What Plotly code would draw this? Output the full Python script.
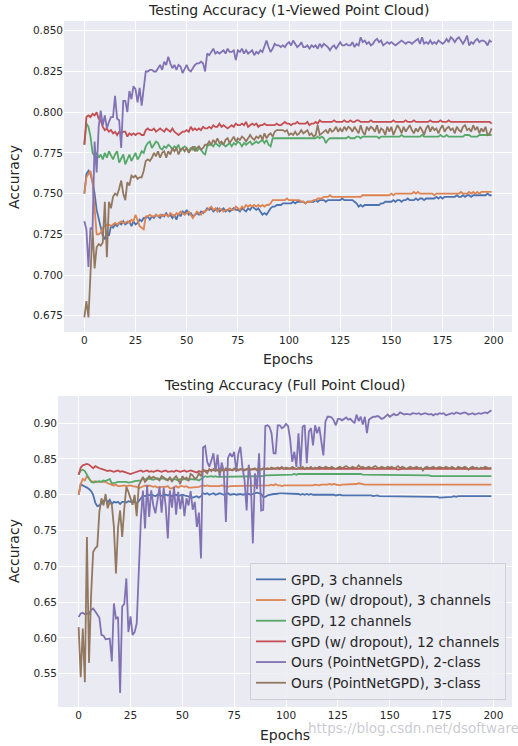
import plotly.graph_objects as go

epochs = list(range(200))

names = ["GPD, 3 channels", "GPD (w/ dropout), 3 channels", "GPD, 12 channels",
         "GPD (w/ dropout), 12 channels", "Ours (PointNetGPD), 2-class", "Ours (PointNetGPD), 3-class"]
colors = ["#4C72B0", "#DD8452", "#55A868", "#C44E52", "#8172B3", "#937860"]

# ---------- Top: 1-viewed point cloud ----------
v1_gpd3 = [
    0.750, 0.762, 0.764, 0.762, 0.757, 0.750, 0.740, 0.734, 0.730, 0.724,
    0.722, 0.727, 0.724, 0.730, 0.729, 0.731, 0.730, 0.732, 0.731, 0.733,
    0.731, 0.732, 0.733, 0.730, 0.733, 0.731, 0.732, 0.734, 0.733, 0.735,
    0.735, 0.736, 0.734, 0.736, 0.735, 0.737, 0.736, 0.735, 0.737, 0.736,
    0.738, 0.736, 0.737, 0.735, 0.737, 0.734, 0.738, 0.736, 0.739, 0.738,
    0.740, 0.737, 0.738, 0.736, 0.737, 0.738, 0.737, 0.739, 0.738, 0.739,
    0.741, 0.740, 0.741, 0.739, 0.740, 0.741, 0.739, 0.740, 0.741, 0.739,
    0.740, 0.739, 0.740, 0.741, 0.740, 0.740, 0.739, 0.741, 0.740, 0.739,
    0.741, 0.740, 0.742, 0.741, 0.740, 0.741, 0.739, 0.737, 0.738, 0.737,
    0.739, 0.741, 0.742, 0.742, 0.743, 0.743, 0.743, 0.744, 0.744, 0.744,
    0.744, 0.744, 0.745, 0.744, 0.745, 0.745, 0.745, 0.745, 0.744, 0.745,
    0.745, 0.745, 0.745, 0.746, 0.745, 0.746, 0.746, 0.746, 0.745, 0.746,
    0.746, 0.746, 0.746, 0.746, 0.746, 0.746, 0.747, 0.746, 0.746, 0.746,
    0.746, 0.746, 0.745, 0.744, 0.742, 0.743, 0.742, 0.743, 0.743, 0.743,
    0.743, 0.743, 0.743, 0.743, 0.743, 0.744, 0.744, 0.745, 0.745, 0.745,
    0.745, 0.746, 0.745, 0.746, 0.746, 0.745, 0.746, 0.746, 0.747, 0.746,
    0.746, 0.746, 0.747, 0.746, 0.747, 0.747, 0.746, 0.747, 0.747, 0.747,
    0.747, 0.747, 0.748, 0.747, 0.748, 0.747, 0.748, 0.748, 0.748, 0.748,
    0.748, 0.748, 0.749, 0.748, 0.748, 0.749, 0.748, 0.749, 0.749, 0.748,
    0.749, 0.749, 0.749, 0.749, 0.749, 0.749, 0.749, 0.750, 0.749, 0.749,
]
v1_gpd3_do = [
    0.750, 0.760, 0.762, 0.764, 0.757, 0.742, 0.725, 0.725, 0.726, 0.729,
    0.730, 0.731, 0.731, 0.730, 0.731, 0.732, 0.731, 0.732, 0.733, 0.732,
    0.732, 0.733, 0.732, 0.734, 0.733, 0.737, 0.733, 0.730, 0.729, 0.728,
    0.736, 0.736, 0.737, 0.736, 0.736, 0.737, 0.736, 0.737, 0.736, 0.737,
    0.737, 0.736, 0.738, 0.737, 0.736, 0.738, 0.737, 0.739, 0.738, 0.737,
    0.738, 0.739, 0.737, 0.735, 0.737, 0.739, 0.738, 0.737, 0.739, 0.739,
    0.740, 0.741, 0.742, 0.740, 0.741, 0.739, 0.741, 0.740, 0.739, 0.740,
    0.740, 0.741, 0.740, 0.740, 0.742, 0.741, 0.740, 0.742, 0.741, 0.743,
    0.742, 0.743, 0.742, 0.743, 0.742, 0.743, 0.742, 0.743, 0.742, 0.743,
    0.743, 0.744, 0.746, 0.746, 0.746, 0.746, 0.746, 0.746, 0.746, 0.747,
    0.746, 0.746, 0.746, 0.746, 0.746, 0.746, 0.745, 0.745, 0.744, 0.745,
    0.745, 0.745, 0.746, 0.746, 0.747, 0.747, 0.747, 0.748, 0.748, 0.748,
    0.749, 0.748, 0.748, 0.748, 0.748, 0.748, 0.748, 0.748, 0.748, 0.748,
    0.748, 0.748, 0.748, 0.748, 0.748, 0.748, 0.749, 0.749, 0.749, 0.749,
    0.749, 0.749, 0.749, 0.749, 0.749, 0.749, 0.749, 0.749, 0.749, 0.749,
    0.750, 0.749, 0.750, 0.750, 0.750, 0.750, 0.750, 0.750, 0.750, 0.750,
    0.750, 0.751, 0.750, 0.751, 0.750, 0.750, 0.750, 0.750, 0.750, 0.750,
    0.750, 0.749, 0.750, 0.750, 0.750, 0.750, 0.750, 0.750, 0.750, 0.750,
    0.750, 0.750, 0.750, 0.750, 0.751, 0.750, 0.750, 0.750, 0.751, 0.750,
    0.751, 0.750, 0.751, 0.750, 0.751, 0.751, 0.751, 0.751, 0.751, 0.751,
]
v1_gpd12 = [
    0.780, 0.793, 0.791, 0.785, 0.775, 0.773, 0.775, 0.772, 0.774, 0.771,
    0.775, 0.772, 0.776, 0.773, 0.771, 0.774, 0.776, 0.769, 0.772, 0.774,
    0.768, 0.771, 0.774, 0.770, 0.773, 0.775, 0.771, 0.773, 0.776, 0.775,
    0.779, 0.781, 0.782, 0.778, 0.780, 0.782, 0.781, 0.778, 0.777, 0.779,
    0.778, 0.780, 0.779, 0.777, 0.779, 0.778, 0.780, 0.776, 0.778, 0.779,
    0.778, 0.776, 0.778, 0.777, 0.779, 0.776, 0.778, 0.777, 0.775, 0.774,
    0.779, 0.780, 0.780, 0.779, 0.781, 0.780, 0.779, 0.781, 0.780, 0.779,
    0.780, 0.781, 0.779, 0.781, 0.780, 0.782, 0.781, 0.779, 0.781, 0.780,
    0.781, 0.782, 0.780, 0.781, 0.782, 0.781, 0.782, 0.783, 0.781, 0.783,
    0.780, 0.779, 0.784, 0.784, 0.784, 0.784, 0.784, 0.784, 0.784, 0.784,
    0.784, 0.784, 0.784, 0.784, 0.784, 0.784, 0.784, 0.784, 0.784, 0.784,
    0.784, 0.784, 0.784, 0.784, 0.785, 0.784, 0.785, 0.784, 0.781, 0.783,
    0.784, 0.784, 0.784, 0.784, 0.784, 0.784, 0.784, 0.784, 0.784, 0.785,
    0.784, 0.784, 0.784, 0.785, 0.785, 0.784, 0.785, 0.785, 0.785, 0.785,
    0.785, 0.785, 0.785, 0.785, 0.784, 0.785, 0.785, 0.785, 0.785, 0.785,
    0.785, 0.785, 0.785, 0.785, 0.785, 0.786, 0.785, 0.785, 0.785, 0.785,
    0.785, 0.785, 0.785, 0.785, 0.785, 0.786, 0.785, 0.785, 0.785, 0.785,
    0.785, 0.785, 0.785, 0.785, 0.786, 0.785, 0.785, 0.786, 0.785, 0.785,
    0.785, 0.785, 0.785, 0.785, 0.785, 0.785, 0.786, 0.786, 0.786, 0.785,
    0.785, 0.785, 0.785, 0.786, 0.786, 0.786, 0.786, 0.786, 0.786, 0.786,
]
v1_gpd12_do = [
    0.780, 0.797, 0.798, 0.797, 0.799, 0.798, 0.800, 0.796, 0.795, 0.791,
    0.789, 0.790, 0.788, 0.789, 0.787, 0.788, 0.786, 0.788, 0.787, 0.788,
    0.788, 0.785, 0.787, 0.786, 0.787, 0.786, 0.787, 0.787, 0.786, 0.786,
    0.789, 0.790, 0.789, 0.789, 0.790, 0.788, 0.789, 0.790, 0.789, 0.788,
    0.790, 0.789, 0.788, 0.790, 0.788, 0.787, 0.786, 0.787, 0.788, 0.788,
    0.789, 0.788, 0.791, 0.789, 0.790, 0.789, 0.790, 0.789, 0.791, 0.790,
    0.790, 0.791, 0.790, 0.792, 0.791, 0.791, 0.793, 0.791, 0.792, 0.791,
    0.790, 0.791, 0.792, 0.791, 0.793, 0.792, 0.792, 0.793, 0.792, 0.794,
    0.791, 0.792, 0.793, 0.792, 0.793, 0.791, 0.792, 0.792, 0.793, 0.792,
    0.792, 0.792, 0.792, 0.792, 0.793, 0.792, 0.792, 0.793, 0.794, 0.793,
    0.793, 0.792, 0.793, 0.793, 0.794, 0.793, 0.793, 0.793, 0.793, 0.794,
    0.792, 0.793, 0.793, 0.794, 0.793, 0.795, 0.794, 0.794, 0.794, 0.794,
    0.794, 0.794, 0.795, 0.794, 0.794, 0.794, 0.794, 0.795, 0.794, 0.794,
    0.795, 0.794, 0.794, 0.795, 0.795, 0.794, 0.794, 0.794, 0.794, 0.794,
    0.795, 0.794, 0.794, 0.794, 0.794, 0.794, 0.794, 0.794, 0.794, 0.794,
    0.794, 0.795, 0.794, 0.794, 0.794, 0.794, 0.794, 0.795, 0.794, 0.794,
    0.794, 0.795, 0.794, 0.794, 0.794, 0.794, 0.794, 0.794, 0.794, 0.795,
    0.794, 0.794, 0.794, 0.794, 0.795, 0.794, 0.794, 0.794, 0.795, 0.794,
    0.794, 0.794, 0.794, 0.794, 0.794, 0.794, 0.794, 0.794, 0.794, 0.794,
    0.794, 0.794, 0.794, 0.794, 0.794, 0.794, 0.794, 0.794, 0.794, 0.793,
]
v1_ours2 = [
    0.733, 0.728, 0.705, 0.729, 0.728, 0.782, 0.763, 0.791, 0.801, 0.792,
    0.798, 0.790, 0.794, 0.797, 0.797, 0.810, 0.796, 0.795, 0.778, 0.807,
    0.807, 0.800, 0.813, 0.808, 0.816, 0.814, 0.806, 0.815, 0.804, 0.816,
    0.825, 0.825, 0.826, 0.826, 0.825, 0.825, 0.827, 0.829, 0.826, 0.831,
    0.829, 0.834, 0.830, 0.827, 0.829, 0.826, 0.829, 0.828, 0.824, 0.827,
    0.829, 0.826, 0.825, 0.827, 0.829, 0.830, 0.830, 0.831, 0.830, 0.825,
    0.836, 0.835, 0.837, 0.839, 0.836, 0.837, 0.836, 0.837, 0.838, 0.836,
    0.839, 0.837, 0.837, 0.838, 0.832, 0.838, 0.837, 0.839, 0.836, 0.838,
    0.836, 0.837, 0.838, 0.835, 0.837, 0.836, 0.838, 0.837, 0.840, 0.844,
    0.840, 0.837, 0.839, 0.842, 0.841, 0.841, 0.840, 0.841, 0.840, 0.842,
    0.843, 0.841, 0.844, 0.842, 0.840, 0.841, 0.843, 0.840, 0.840, 0.841,
    0.839, 0.841, 0.840, 0.841, 0.839, 0.842, 0.840, 0.842, 0.841, 0.840,
    0.838, 0.840, 0.841, 0.839, 0.841, 0.843, 0.841, 0.841, 0.842, 0.841,
    0.841, 0.843, 0.840, 0.842, 0.841, 0.846, 0.843, 0.844, 0.842, 0.843,
    0.841, 0.842, 0.844, 0.845, 0.843, 0.844, 0.841, 0.842, 0.843, 0.842,
    0.843, 0.842, 0.841, 0.842, 0.843, 0.844, 0.843, 0.842, 0.843, 0.843,
    0.842, 0.843, 0.844, 0.845, 0.842, 0.846, 0.842, 0.843, 0.842, 0.844,
    0.842, 0.843, 0.842, 0.844, 0.843, 0.842, 0.843, 0.845, 0.843, 0.846,
    0.845, 0.843, 0.845, 0.846, 0.844, 0.842, 0.844, 0.847, 0.841, 0.843,
    0.842, 0.844, 0.845, 0.843, 0.844, 0.844, 0.843, 0.841, 0.844, 0.843,
]
v1_ours3 = [
    0.674, 0.684, 0.674, 0.705, 0.728, 0.704, 0.717, 0.719, 0.718, 0.720,
    0.745, 0.711, 0.745, 0.741, 0.748, 0.750, 0.749, 0.753, 0.758, 0.750,
    0.746, 0.757, 0.755, 0.761, 0.760, 0.761, 0.759, 0.760, 0.760, 0.764,
    0.770, 0.771, 0.770, 0.772, 0.775, 0.773, 0.776, 0.772, 0.775, 0.776,
    0.772, 0.776, 0.774, 0.778, 0.776, 0.778, 0.774, 0.777, 0.778, 0.776,
    0.778, 0.775, 0.777, 0.779, 0.776, 0.778, 0.779, 0.777, 0.778, 0.780,
    0.780, 0.782, 0.780, 0.783, 0.781, 0.784, 0.781, 0.782, 0.780, 0.783,
    0.784, 0.781, 0.783, 0.785, 0.782, 0.784, 0.783, 0.785, 0.784, 0.782,
    0.784, 0.786, 0.784, 0.783, 0.785, 0.784, 0.786, 0.783, 0.787, 0.784,
    0.786, 0.787, 0.785, 0.788, 0.789, 0.789, 0.789, 0.789, 0.788, 0.789,
    0.786, 0.787, 0.786, 0.788, 0.786, 0.787, 0.789, 0.787, 0.788, 0.789,
    0.786, 0.787, 0.785, 0.786, 0.792, 0.786, 0.787, 0.788, 0.789, 0.787,
    0.790, 0.788, 0.789, 0.791, 0.788, 0.790, 0.788, 0.791, 0.789, 0.791,
    0.790, 0.788, 0.791, 0.789, 0.787, 0.792, 0.788, 0.786, 0.791, 0.789,
    0.791, 0.790, 0.788, 0.792, 0.787, 0.790, 0.789, 0.786, 0.791, 0.788,
    0.791, 0.786, 0.789, 0.792, 0.790, 0.787, 0.791, 0.788, 0.790, 0.792,
    0.789, 0.787, 0.790, 0.788, 0.791, 0.789, 0.786, 0.790, 0.792, 0.788,
    0.791, 0.789, 0.790, 0.787, 0.790, 0.792, 0.788, 0.790, 0.791, 0.789,
    0.790, 0.787, 0.791, 0.789, 0.788, 0.791, 0.792, 0.789, 0.790, 0.788,
    0.792, 0.789, 0.791, 0.787, 0.790, 0.788, 0.791, 0.786, 0.787, 0.790,
]

# ---------- Bottom: full point cloud ----------
f_gpd3 = [
    0.800, 0.815, 0.813, 0.812, 0.810, 0.808, 0.805, 0.800, 0.789, 0.784,
    0.785, 0.788, 0.791, 0.794, 0.789, 0.793, 0.787, 0.790, 0.789, 0.790,
    0.787, 0.790, 0.790, 0.789, 0.791, 0.790, 0.791, 0.789, 0.788, 0.791,
    0.795, 0.799, 0.798, 0.799, 0.799, 0.800, 0.799, 0.798, 0.800, 0.799,
    0.799, 0.798, 0.800, 0.799, 0.800, 0.798, 0.799, 0.800, 0.798, 0.799,
    0.800, 0.799, 0.798, 0.797, 0.796, 0.796, 0.797, 0.798, 0.796, 0.798,
    0.802, 0.801, 0.802, 0.800, 0.801, 0.802, 0.800, 0.801, 0.802, 0.801,
    0.800, 0.801, 0.802, 0.800, 0.801, 0.801, 0.800, 0.801, 0.801, 0.800,
    0.801, 0.801, 0.801, 0.800, 0.801, 0.802, 0.803, 0.802, 0.801, 0.797,
    0.797, 0.799, 0.800, 0.801, 0.801, 0.801, 0.802, 0.802, 0.802, 0.802,
    0.802, 0.801, 0.802, 0.801, 0.801, 0.801, 0.801, 0.800, 0.801, 0.800,
    0.801, 0.800, 0.801, 0.800, 0.800, 0.801, 0.800, 0.800, 0.800, 0.800,
    0.800, 0.800, 0.800, 0.800, 0.799, 0.800, 0.800, 0.799, 0.799, 0.799,
    0.799, 0.799, 0.799, 0.799, 0.799, 0.799, 0.800, 0.799, 0.799, 0.799,
    0.799, 0.799, 0.798, 0.799, 0.799, 0.798, 0.798, 0.798, 0.798, 0.797,
    0.797, 0.798, 0.797, 0.798, 0.798, 0.798, 0.798, 0.798, 0.797, 0.798,
    0.798, 0.798, 0.798, 0.798, 0.798, 0.798, 0.798, 0.798, 0.797, 0.798,
    0.798, 0.797, 0.797, 0.797, 0.796, 0.796, 0.796, 0.797, 0.797, 0.797,
    0.797, 0.798, 0.797, 0.798, 0.798, 0.798, 0.798, 0.798, 0.798, 0.798,
    0.798, 0.798, 0.798, 0.798, 0.798, 0.798, 0.798, 0.798, 0.798, 0.798,
]
f_gpd3_do = [
    0.800, 0.815, 0.822, 0.820, 0.826, 0.822, 0.819, 0.818, 0.819, 0.818,
    0.818, 0.818, 0.817, 0.818, 0.816, 0.815, 0.815, 0.813, 0.814, 0.812,
    0.812, 0.813, 0.813, 0.812, 0.813, 0.813, 0.812, 0.812, 0.811, 0.809,
    0.810, 0.812, 0.813, 0.811, 0.813, 0.812, 0.811, 0.812, 0.810, 0.811,
    0.811, 0.810, 0.811, 0.812, 0.809, 0.809, 0.811, 0.812, 0.810, 0.812,
    0.812, 0.811, 0.812, 0.810, 0.810, 0.810, 0.811, 0.810, 0.811, 0.812,
    0.813, 0.812, 0.813, 0.812, 0.812, 0.811, 0.812, 0.812, 0.812, 0.813,
    0.812, 0.812, 0.811, 0.812, 0.812, 0.813, 0.812, 0.812, 0.813, 0.812,
    0.812, 0.812, 0.813, 0.812, 0.812, 0.813, 0.812, 0.812, 0.813, 0.812,
    0.812, 0.813, 0.813, 0.814, 0.813, 0.815, 0.813, 0.813, 0.812, 0.813,
    0.813, 0.812, 0.812, 0.813, 0.812, 0.812, 0.813, 0.813, 0.812, 0.813,
    0.812, 0.812, 0.813, 0.813, 0.814, 0.813, 0.813, 0.814, 0.814, 0.813,
    0.814, 0.815, 0.814, 0.815, 0.814, 0.814, 0.813, 0.814, 0.814, 0.814,
    0.814, 0.815, 0.814, 0.814, 0.815, 0.816, 0.815, 0.814, 0.814, 0.814,
    0.814, 0.814, 0.814, 0.813, 0.814, 0.814, 0.813, 0.814, 0.813, 0.813,
    0.813, 0.813, 0.814, 0.813, 0.814, 0.814, 0.813, 0.814, 0.813, 0.814,
    0.813, 0.814, 0.813, 0.814, 0.813, 0.814, 0.814, 0.813, 0.814, 0.813,
    0.814, 0.813, 0.814, 0.813, 0.814, 0.813, 0.814, 0.814, 0.813, 0.814,
    0.814, 0.813, 0.814, 0.813, 0.814, 0.814, 0.814, 0.813, 0.814, 0.814,
    0.814, 0.814, 0.814, 0.814, 0.814, 0.814, 0.814, 0.814, 0.814, 0.814,
]
f_gpd12 = [
    0.828, 0.834, 0.835, 0.833, 0.828, 0.822, 0.818, 0.817, 0.818, 0.818,
    0.819, 0.818, 0.820, 0.819, 0.821, 0.822, 0.816, 0.816, 0.817, 0.818,
    0.818, 0.819, 0.818, 0.818, 0.817, 0.817, 0.818, 0.819, 0.819, 0.820,
    0.820, 0.822, 0.821, 0.823, 0.822, 0.822, 0.821, 0.822, 0.823, 0.822,
    0.822, 0.823, 0.821, 0.822, 0.822, 0.821, 0.822, 0.821, 0.820, 0.822,
    0.821, 0.822, 0.821, 0.822, 0.822, 0.821, 0.821, 0.821, 0.820, 0.822,
    0.825, 0.826, 0.825, 0.826, 0.826, 0.825, 0.826, 0.825, 0.825, 0.826,
    0.826, 0.826, 0.825, 0.826, 0.826, 0.826, 0.826, 0.826, 0.825, 0.826,
    0.826, 0.826, 0.826, 0.826, 0.826, 0.826, 0.826, 0.826, 0.826, 0.826,
    0.827, 0.827, 0.827, 0.827, 0.827, 0.827, 0.828, 0.827, 0.828, 0.828,
    0.828, 0.828, 0.828, 0.828, 0.829, 0.828, 0.829, 0.829, 0.829, 0.829,
    0.829, 0.829, 0.829, 0.830, 0.829, 0.830, 0.830, 0.830, 0.829, 0.830,
    0.830, 0.830, 0.830, 0.830, 0.830, 0.830, 0.830, 0.830, 0.829, 0.829,
    0.829, 0.829, 0.829, 0.829, 0.829, 0.829, 0.829, 0.828, 0.828, 0.828,
    0.828, 0.828, 0.828, 0.828, 0.828, 0.828, 0.828, 0.828, 0.828, 0.828,
    0.828, 0.828, 0.827, 0.827, 0.827, 0.827, 0.827, 0.827, 0.827, 0.827,
    0.827, 0.827, 0.827, 0.827, 0.827, 0.827, 0.827, 0.827, 0.827, 0.827,
    0.826, 0.826, 0.826, 0.826, 0.826, 0.826, 0.826, 0.826, 0.826, 0.826,
    0.826, 0.826, 0.826, 0.826, 0.826, 0.826, 0.826, 0.826, 0.826, 0.826,
    0.826, 0.826, 0.826, 0.826, 0.826, 0.826, 0.826, 0.826, 0.826, 0.826,
]
f_gpd12_do = [
    0.828, 0.838, 0.841, 0.842, 0.843, 0.842, 0.839, 0.837, 0.840, 0.838,
    0.837, 0.836, 0.835, 0.834, 0.833, 0.834, 0.833, 0.832, 0.833, 0.834,
    0.832, 0.833, 0.832, 0.831, 0.830, 0.829, 0.830, 0.831, 0.832, 0.833,
    0.834, 0.832, 0.833, 0.834, 0.832, 0.833, 0.832, 0.833, 0.834, 0.833,
    0.832, 0.833, 0.834, 0.832, 0.833, 0.833, 0.832, 0.834, 0.833, 0.832,
    0.833, 0.834, 0.832, 0.833, 0.834, 0.833, 0.832, 0.831, 0.833, 0.832,
    0.833, 0.834, 0.833, 0.834, 0.835, 0.834, 0.835, 0.834, 0.835, 0.834,
    0.835, 0.834, 0.835, 0.835, 0.834, 0.835, 0.836, 0.835, 0.835, 0.836,
    0.835, 0.835, 0.836, 0.835, 0.836, 0.835, 0.836, 0.835, 0.835, 0.836,
    0.836, 0.836, 0.835, 0.836, 0.836, 0.837, 0.836, 0.836, 0.837, 0.836,
    0.836, 0.836, 0.837, 0.836, 0.836, 0.836, 0.837, 0.836, 0.836, 0.836,
    0.836, 0.836, 0.837, 0.836, 0.836, 0.836, 0.836, 0.837, 0.836, 0.836,
    0.836, 0.836, 0.836, 0.837, 0.836, 0.836, 0.836, 0.836, 0.837, 0.836,
    0.836, 0.836, 0.836, 0.836, 0.837, 0.836, 0.836, 0.836, 0.836, 0.836,
    0.836, 0.836, 0.837, 0.836, 0.836, 0.836, 0.836, 0.836, 0.836, 0.836,
    0.836, 0.836, 0.836, 0.836, 0.835, 0.836, 0.836, 0.836, 0.836, 0.836,
    0.836, 0.836, 0.836, 0.836, 0.836, 0.836, 0.836, 0.836, 0.836, 0.835,
    0.836, 0.836, 0.836, 0.836, 0.836, 0.836, 0.836, 0.836, 0.836, 0.836,
    0.836, 0.836, 0.836, 0.836, 0.836, 0.836, 0.836, 0.836, 0.836, 0.836,
    0.836, 0.836, 0.836, 0.836, 0.836, 0.836, 0.836, 0.836, 0.836, 0.836,
]
f_ours2 = [
    0.629, 0.634, 0.635, 0.633, 0.634, 0.633, 0.639, 0.641, 0.637, 0.632,
    0.628, 0.604, 0.603, 0.598, 0.598, 0.599, 0.567, 0.648, 0.627, 0.629,
    0.523, 0.644, 0.647, 0.683, 0.608, 0.630, 0.604, 0.608, 0.620, 0.701,
    0.765, 0.806, 0.753, 0.814, 0.769, 0.806, 0.785, 0.774, 0.790, 0.811,
    0.775, 0.810, 0.783, 0.739, 0.806, 0.782, 0.811, 0.772, 0.804, 0.780,
    0.800, 0.770, 0.795, 0.785, 0.805, 0.779, 0.790, 0.755, 0.775, 0.711,
    0.866, 0.868, 0.846, 0.839, 0.848, 0.858, 0.832, 0.856, 0.825, 0.845,
    0.832, 0.762, 0.851, 0.858, 0.853, 0.860, 0.832, 0.857, 0.867, 0.838,
    0.820, 0.778, 0.842, 0.820, 0.732, 0.830, 0.808, 0.858, 0.778, 0.779,
    0.896, 0.897, 0.895, 0.886, 0.858, 0.858, 0.897, 0.897, 0.893, 0.895,
    0.899, 0.896, 0.877, 0.846, 0.860, 0.839, 0.886, 0.839, 0.895, 0.897,
    0.844, 0.888, 0.893, 0.869, 0.897, 0.886, 0.895, 0.872, 0.855, 0.902,
    0.909, 0.909, 0.908, 0.904, 0.897, 0.906, 0.906, 0.904, 0.906, 0.908,
    0.905, 0.906, 0.903, 0.900, 0.912, 0.903, 0.909, 0.898, 0.909, 0.886,
    0.905, 0.907, 0.909, 0.909, 0.910, 0.909, 0.906, 0.907, 0.910, 0.912,
    0.909, 0.911, 0.913, 0.911, 0.912, 0.915, 0.913, 0.912, 0.913, 0.913,
    0.912, 0.914, 0.913, 0.913, 0.914, 0.912, 0.913, 0.914, 0.913, 0.912,
    0.913, 0.911, 0.913, 0.912, 0.914, 0.913, 0.914, 0.911, 0.912, 0.913,
    0.914, 0.913, 0.915, 0.914, 0.913, 0.914, 0.915, 0.914, 0.912, 0.913,
    0.914, 0.912, 0.913, 0.914, 0.913, 0.914, 0.915, 0.914, 0.916, 0.918,
]
f_ours3 = [
    0.615, 0.545, 0.613, 0.538, 0.741, 0.565, 0.659, 0.720, 0.725, 0.728,
    0.776, 0.795, 0.785, 0.801, 0.781, 0.790, 0.786, 0.755, 0.690, 0.754,
    0.778, 0.741, 0.780, 0.811, 0.804, 0.795, 0.786, 0.800, 0.770, 0.813,
    0.820, 0.825, 0.818, 0.821, 0.826, 0.823, 0.825, 0.824, 0.822, 0.820,
    0.826, 0.824, 0.822, 0.820, 0.825, 0.818, 0.823, 0.826, 0.821, 0.815,
    0.826, 0.822, 0.824, 0.819, 0.829, 0.827, 0.822, 0.824, 0.830, 0.826,
    0.835, 0.833, 0.830, 0.836, 0.833, 0.836, 0.834, 0.835, 0.831, 0.836,
    0.833, 0.837, 0.835, 0.836, 0.834, 0.837, 0.836, 0.834, 0.836, 0.835,
    0.834, 0.836, 0.837, 0.835, 0.836, 0.837, 0.834, 0.836, 0.835, 0.837,
    0.836, 0.837, 0.836, 0.838, 0.837, 0.836, 0.838, 0.837, 0.839, 0.836,
    0.838, 0.837, 0.836, 0.839, 0.837, 0.836, 0.838, 0.837, 0.839, 0.836,
    0.838, 0.837, 0.839, 0.836, 0.838, 0.837, 0.839, 0.838, 0.837, 0.839,
    0.838, 0.837, 0.839, 0.838, 0.836, 0.838, 0.839, 0.837, 0.838, 0.840,
    0.838, 0.837, 0.839, 0.838, 0.837, 0.841, 0.838, 0.839, 0.837, 0.838,
    0.839, 0.837, 0.838, 0.840, 0.838, 0.837, 0.839, 0.838, 0.837, 0.839,
    0.838, 0.839, 0.837, 0.838, 0.840, 0.837, 0.839, 0.838, 0.836, 0.838,
    0.839, 0.837, 0.838, 0.839, 0.837, 0.838, 0.834, 0.838, 0.839, 0.837,
    0.838, 0.839, 0.837, 0.838, 0.839, 0.838, 0.837, 0.839, 0.838, 0.837,
    0.839, 0.838, 0.836, 0.839, 0.838, 0.837, 0.839, 0.838, 0.835, 0.838,
    0.839, 0.837, 0.838, 0.836, 0.838, 0.837, 0.839, 0.838, 0.837, 0.838,
]

top_series = [v1_gpd3, v1_gpd3_do, v1_gpd12, v1_gpd12_do, v1_ours2, v1_ours3]
bottom_series = [f_gpd3, f_gpd3_do, f_gpd12, f_gpd12_do, f_ours2, f_ours3]

top_title = "Testing Accuracy (1-Viewed Point Cloud)"
bottom_title = "Testing Accuracy (Full Point Cloud)"
x_ticks = [0, 25, 50, 75, 100, 125, 150, 175, 200]
top_yticks = [0.675, 0.700, 0.725, 0.750, 0.775, 0.800, 0.825, 0.850]
bottom_yticks = [0.55, 0.60, 0.65, 0.70, 0.75, 0.80, 0.85, 0.90]

# The page's body margin is removed (see post_script), so the figure fills the window.
W, H = 518, 746


def px(x):
    return x / W


def py(y):
    return 1 - y / H


FONT = "DejaVu Sans"
TXT = "#262626"
BG = "#EAEAF2"

fig = go.Figure()
for i, ys in enumerate(top_series):
    fig.add_trace(go.Scatter(x=epochs, y=ys, mode="lines", name=names[i],
                             line=dict(color=colors[i], width=1.8),
                             xaxis="x", yaxis="y", showlegend=False))
for i, ys in enumerate(bottom_series):
    fig.add_trace(go.Scatter(x=epochs, y=ys, mode="lines", name=names[i],
                             line=dict(color=colors[i], width=1.8),
                             xaxis="x2", yaxis="y2", showlegend=True))

axis_common = dict(showgrid=True, gridcolor="white", gridwidth=1.2, zeroline=False,
                   showline=False, ticks="", automargin=False,
                   tickfont=dict(family=FONT, size=10.5, color=TXT))

fig.update_layout(
    width=W, height=H,
    margin=dict(l=0, r=0, t=0, b=0),
    paper_bgcolor="white", plot_bgcolor=BG,
    font=dict(family=FONT, color=TXT),
    xaxis=dict(domain=[px(64), px(512)], range=[-9.95, 208.95], tickvals=x_ticks,
               anchor="y", **axis_common),
    yaxis=dict(domain=[py(332), py(21)], range=[0.665, 0.856],
               tickvals=top_yticks, tickformat=".3f", anchor="x", **axis_common),
    xaxis2=dict(domain=[px(58), px(512)], range=[-9.95, 208.95], tickvals=x_ticks,
                anchor="y2", **axis_common),
    yaxis2=dict(domain=[py(707), py(396)], range=[0.5033, 0.938],
                tickvals=bottom_yticks, tickformat=".2f", anchor="x2", **axis_common),
    legend=dict(x=px(506), y=py(700), xanchor="right", yanchor="bottom",
                bgcolor="rgba(236,236,243,0.85)", bordercolor="#CFCFD6", borderwidth=1,
                font=dict(family=FONT, size=13.6, color=TXT), tracegroupgap=0),
)

annotations = [
    dict(text=top_title, x=px(288), y=py(10), font=dict(size=14)),
    dict(text=bottom_title, x=px(285), y=py(385), font=dict(size=14)),
    dict(text="Epochs", x=px(288), y=py(359), font=dict(size=14)),
    dict(text="Epochs", x=px(285), y=py(735), font=dict(size=14)),
    dict(text="Accuracy", x=px(14), y=py(177), font=dict(size=14), textangle=-90),
    dict(text="Accuracy", x=px(14), y=py(551), font=dict(size=14), textangle=-90),
    dict(text="https://blog.csdn.net/dsoftware", x=px(413), y=py(728),
         font=dict(size=13.5, color="rgba(185,185,195,0.75)")),
]
for a in annotations:
    a.update(xref="paper", yref="paper", showarrow=False, xanchor="center", yanchor="middle")
    a["font"].setdefault("family", FONT)
    a["font"].setdefault("color", TXT)
fig.update_layout(annotations=annotations)

fig.write_html("out.html",
               config={"displayModeBar": False},
               post_script="document.body.style.margin='0';"
                           "document.body.style.overflow='hidden';")
